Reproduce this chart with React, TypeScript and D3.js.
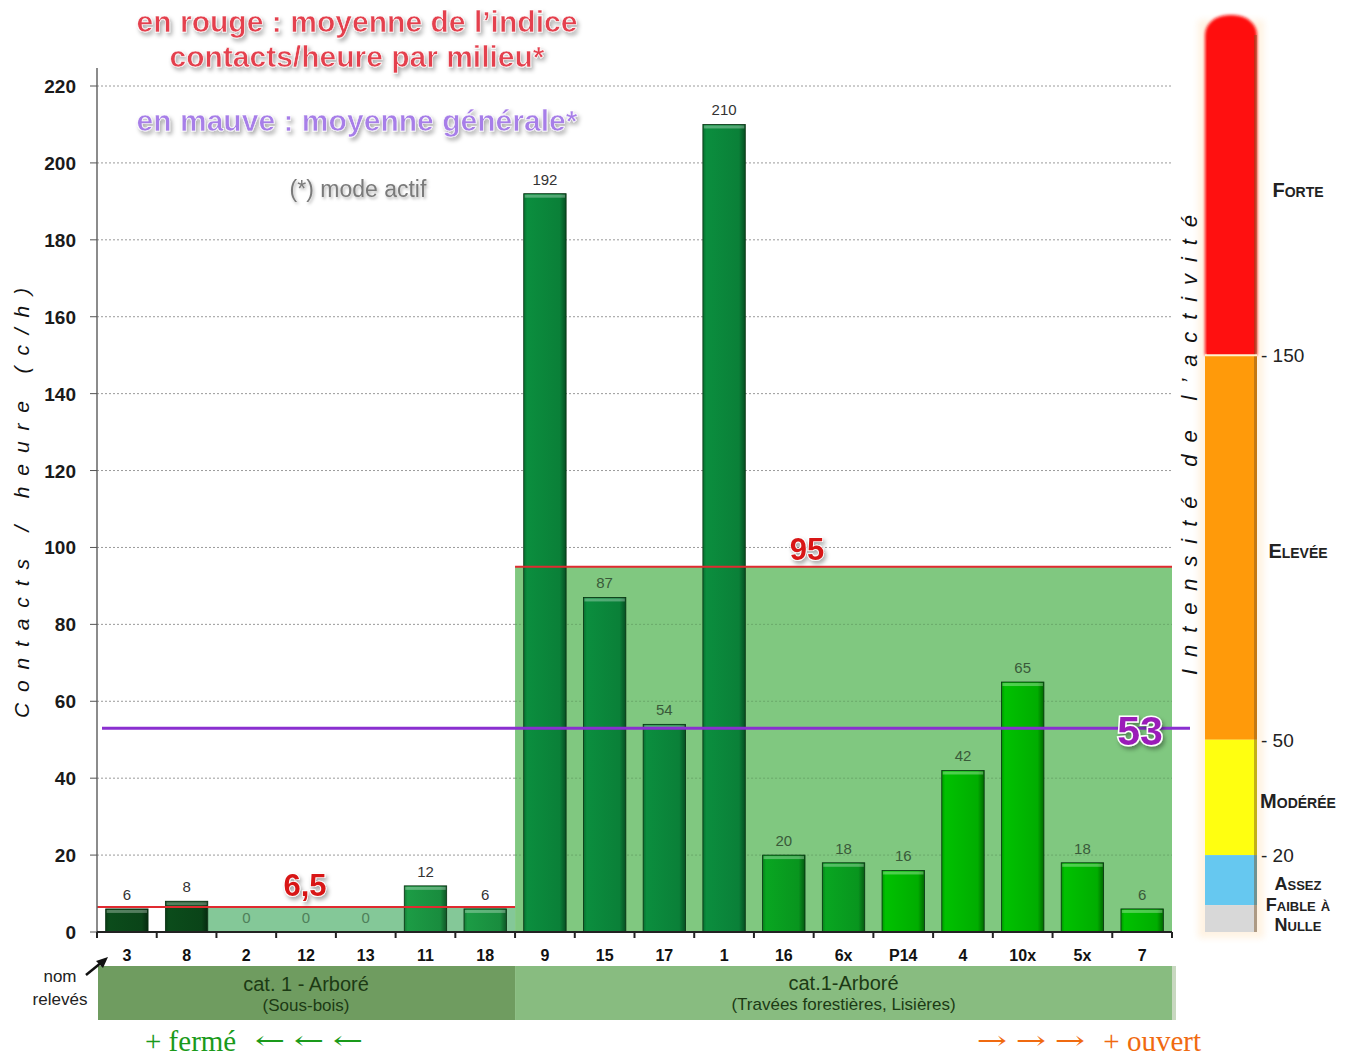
import React from "react";
import * as d3 from "d3";

const categories = ["3", "8", "2", "12", "13", "11", "18", "9", "15", "17", "1", "16", "6x", "P14", "4", "10x", "5x", "7"];
const values = [6, 8, 0, 0, 0, 12, 6, 192, 87, 54, 210, 20, 18, 16, 42, 65, 18, 6];
const yTicks = [0, 20, 40, 60, 80, 100, 120, 140, 160, 180, 200, 220];
const meanSousBois = 6.5;
const meanLisieres = 95;
const meanGenerale = 53;
const intensityBands = [
  { from: 50, to: 150, color: "#ff9a0a" },
  { from: 20, to: 50, color: "#ffff10" },
  { from: 7, to: 20, color: "#66c8f0" },
  { from: 0, to: 7, color: "#d8d8d8" },
];
const intensityTicks = [150, 50, 20];

// style per bar (tone index)
const tones = [0, 0, 1, 1, 1, 1, 1, 2, 2, 2, 2, 3, 3, 4, 4, 4, 4, 4];
const toneColors = ["#0a4418", "#198c3e", "#0a8038", "#08951e", "#00ad00"];

export default function App() {
  const W = 1351, H = 1057;
  const x0 = 97, x1 = 1172;
  const x = d3.scaleBand<string>().domain(categories).range([x0, x1]).paddingInner(0.29).paddingOuter(0.145);
  const xb = d3.scaleBand<string>().domain(categories).range([x0, x1]).padding(0);
  const y = d3.scaleLinear().domain([0, 220]).range([932, 86]);
  const step = xb.step();
  const splitX = xb("9")!;
  const leftShadeStart = xb("8")! + xb.step() - (step - x.bandwidth()) / 2;
  const sans = "'Liberation Sans', Arial, sans-serif";
  const serif = "'Liberation Serif', 'DejaVu Serif', 'Times New Roman', serif";
  const redTop = 15;

  return (
    <svg width={W} height={H} style={{ position: "absolute", left: 0, top: 0, background: "#fff" }}
      fontFamily={sans}>
      <defs>
        <filter id="sh" x="-10%" y="-30%" width="130%" height="180%">
          <feDropShadow dx="2" dy="3" stdDeviation="2" floodColor="#000" floodOpacity="0.35" />
        </filter>
        <filter id="soft" x="-10%" y="-30%" width="130%" height="180%">
          <feDropShadow dx="1.5" dy="2" stdDeviation="1.5" floodColor="#000" floodOpacity="0.3" />
        </filter>
        <filter id="blur" x="-30%" y="-10%" width="160%" height="120%"><feGaussianBlur stdDeviation="3" /></filter>
        <filter id="edge" x="-20%" y="-5%" width="140%" height="110%"><feGaussianBlur stdDeviation="1.6" /></filter>
        {toneColors.map((c, i) => (
          <linearGradient key={i} id={`bg${i}`} x1="0" x2="1" y1="0" y2="0">
            <stop offset="0" stopColor={d3.color(c)!.darker(0.4).toString()} />
            <stop offset="0.08" stopColor={d3.color(c)!.brighter(0.3).toString()} />
            <stop offset="0.85" stopColor={c} />
            <stop offset="1" stopColor={d3.color(c)!.darker(1.4).toString()} />
          </linearGradient>
        ))}
      </defs>

      {/* Titles */}
      <g fontWeight="bold" fontSize={29} textAnchor="middle" fontFamily={sans} filter="url(#sh)">
        <text x={357} y={32} fill="#e4404e" stroke="#fff" strokeWidth={0.6} textLength={441} lengthAdjust="spacingAndGlyphs">en rouge : moyenne de l’indice</text>
        <text x={357} y={67} fill="#e4404e" stroke="#fff" strokeWidth={0.6} textLength={375} lengthAdjust="spacingAndGlyphs">contacts/heure par milieu*</text>
        <text x={357} y={131} fill="#a77ee8" stroke="#fff" strokeWidth={0.6} textLength={441} lengthAdjust="spacingAndGlyphs">en mauve : moyenne générale*</text>
      </g>
      <text x={358} y={197} textAnchor="middle" fontSize={23} fill="#7a7a7a" filter="url(#soft)">(*) mode actif</text>

      {/* Gridlines */}
      {yTicks.filter(t => t > 0).map(t => (
        <line key={t} x1={x0} x2={x1} y1={y(t)} y2={y(t)} stroke="#9a9a9a" strokeWidth={1} strokeDasharray="2,2" />
      ))}

      {/* shaded means */}
      <rect x={leftShadeStart} y={y(meanSousBois)} width={splitX - leftShadeStart} height={y(0) - y(meanSousBois)} fill="#84c898" />
      <rect x={splitX} y={y(meanLisieres)} width={x1 - splitX} height={y(0) - y(meanLisieres)} fill="#80c880" />

      {yTicks.filter(t => t > 0 && t < meanLisieres).map(t => (
        <line key={"g" + t} x1={splitX} x2={x1} y1={y(t)} y2={y(t)} stroke="#6aa86a" strokeWidth={1} strokeDasharray="2,2" />
      ))}

      {/* Bars */}
      {categories.map((c, i) => {
        const v = values[i];
        if (v <= 0) return null;
        const bx = x(c)!, bw = x.bandwidth();
        const top = y(v);
        return (
          <g key={c}>
            <rect x={bx} y={top} width={bw} height={y(0) - top} fill={`url(#bg${tones[i]})`} stroke="#06300f" strokeWidth={0.8} />
            <rect x={bx + 1} y={top + 1} width={bw - 2} height={3} fill="#fff" opacity={0.3} />
          </g>
        );
      })}

      {/* Value labels */}
      {categories.map((c, i) => (
        <text key={"v" + c} x={x(c)! + x.bandwidth() / 2} y={y(values[i]) - 9}
          textAnchor="middle" fontSize={15}
          fill={values[i] === 0 ? "#4f7f5a" : (i >= 7 && values[i] < meanLisieres ? "#3a5a3a" : "#333")}>
          {values[i]}
        </text>
      ))}

      {/* mean lines */}
      <line x1={x0} x2={splitX} y1={y(meanSousBois)} y2={y(meanSousBois)} stroke="#e02a30" strokeWidth={2} />
      <line x1={splitX} x2={x1} y1={y(meanLisieres)} y2={y(meanLisieres)} stroke="#e02a30" strokeWidth={2} />
      <line x1={102} x2={1190} y1={y(meanGenerale)} y2={y(meanGenerale)} stroke="#8a2fd0" strokeWidth={3} />

      <g fontWeight="bold" fontFamily={sans} textAnchor="middle" filter="url(#sh)">
        <text x={305} y={896} fontSize={31} fill="#d81818" stroke="#fff" strokeWidth={1.5} paintOrder="stroke">6,5</text>
        <text x={807} y={560} fontSize={31} fill="#d81818" stroke="#fff" strokeWidth={1.5} paintOrder="stroke">95</text>
        <text x={1140} y={745} fontSize={41} fill="#9a1fb8" stroke="#fff" strokeWidth={3} paintOrder="stroke">53</text>
      </g>

      {/* Y axis */}
      <line x1={x0} x2={x0} y1={68} y2={y(0)} stroke="#666" strokeWidth={1.5} />
      {yTicks.map(t => (
        <g key={"t" + t}>
          <line x1={x0 - 7} x2={x0} y1={y(t)} y2={y(t)} stroke="#555" />
          <text x={76} y={y(t) + 7} textAnchor="end" fontSize={19} fontWeight="bold" fill="#1a1a1a">{t}</text>
        </g>
      ))}
      <text transform={`translate(29,503) rotate(-90)`} textAnchor="middle" fontSize={21} fontStyle="italic"
        textLength={430} lengthAdjust="spacing" fill="#111">Contacts / heure (c/h)</text>

      {/* X axis */}
      <line x1={x0} x2={x1} y1={y(0)} y2={y(0)} stroke="#222" strokeWidth={2} />
      {d3.range(categories.length + 1).map(i => (
        <line key={"xt" + i} x1={x0 + i * step} x2={x0 + i * step} y1={y(0)} y2={y(0) + 6} stroke="#222" strokeWidth={2} />
      ))}
      {categories.map(c => (
        <text key={"xl" + c} x={xb(c)! + step / 2} y={961} textAnchor="middle" fontSize={16} fontWeight="bold" fill="#111">{c}</text>
      ))}

      {/* category boxes */}
      <rect x={x0 + 1} y={966} width={splitX - x0 - 1} height={54} fill="#6f9c60" />
      <rect x={splitX} y={966} width={x1 - splitX} height={54} fill="#88bc80" />
      <rect x={x1} y={966} width={4} height={54} fill="#c8d8c0" />
      <text x={(x0 + splitX) / 2} y={991} textAnchor="middle" fontSize={20} fill="#1c3a14">cat. 1 - Arboré</text>
      <text x={(x0 + splitX) / 2} y={1011} textAnchor="middle" fontSize={17} fill="#1c3a14">(Sous-bois)</text>
      <text x={(splitX + x1) / 2} y={990} textAnchor="middle" fontSize={20} fill="#1c3a14">cat.1-Arboré</text>
      <text x={(splitX + x1) / 2} y={1010} textAnchor="middle" fontSize={17} fill="#1c3a14">(Travées forestières, Lisières)</text>

      <text x={60} y={982} textAnchor="middle" fontSize={17} fill="#222">nom</text>
      <text x={60} y={1005} textAnchor="middle" fontSize={17} fill="#222">relevés</text>
      <line x1={86} x2={102} y1={975} y2={962} stroke="#111" strokeWidth={2.5} />
      <path d="M108,957 L96,961 L103,968 Z" fill="#111" />

      {/* direction hints */}
      <g fontFamily={serif} fontSize={29}>
        <text x={145} y={1051} fill="#1a9a1a">+ fermé</text>
        {[270, 309, 348].map(cx => (
          <text key={"la" + cx} x={cx} y={1049} textAnchor="middle" fill="#1a9a1a" fontFamily="'DejaVu Serif', serif" fontSize={25} transform={`translate(${cx},0) scale(1.45,1) translate(${-cx},0)`}>←</text>
        ))}
        {[992, 1031, 1070].map(cx => (
          <text key={"ra" + cx} x={cx} y={1049} textAnchor="middle" fill="#f06a10" fontFamily="'DejaVu Serif', serif" fontSize={25} transform={`translate(${cx},0) scale(1.45,1) translate(${-cx},0)`}>→</text>
        ))}
        <text x={1201} y={1051} textAnchor="end" fill="#f06a10">+ ouvert</text>
      </g>

      {/* Intensity scale */}
      <g>
        <rect x={1198} y={20} width={66} height={y(0) - 14} fill="#fff0dc" filter="url(#blur)" opacity={0.8} />
        <g filter="url(#edge)">
          <rect x={1205} y={redTop} width={52} height={y(150) - redTop} rx={24} ry={20} fill="#ff1010" />
          <rect x={1205} y={redTop + 30} width={52} height={y(150) - redTop - 30} fill="#ff1010" />
        </g>
        <rect x={1207} y={redTop + 25} width={48} height={y(150) - redTop - 25} fill="#ff1010" />
        {intensityBands.map(b => (
          <rect key={b.from} x={1205} y={y(b.to)} width={52} height={y(b.from) - y(b.to)} fill={b.color} />
        ))}
        <rect x={1254} y={redTop + 20} width={3} height={y(0) - redTop - 20} fill="#7a5020" opacity={0.45} />
        <line x1={1205} x2={1257} y1={y(150)} y2={y(150)} stroke="#fff3d0" strokeWidth={2} />
        {intensityTicks.map(t => (
          <text key={"it" + t} x={1261} y={y(t) + 7} fontSize={19} fill="#222">- {t}</text>
        ))}
        <g fontWeight="bold" fontSize={20} fill="#222" textAnchor="middle" style={{ fontVariant: "small-caps" }}>
          <text x={1298} y={197}>Forte</text>
          <text x={1298} y={558}>Elevée</text>
          <text x={1298} y={808}>Modérée</text>
          <text x={1298} y={890} fontSize={18}>Assez</text>
          <text x={1298} y={911} fontSize={18}>Faible à</text>
          <text x={1298} y={931} fontSize={18}>Nulle</text>
        </g>
      </g>
      <text transform={`translate(1197,445) rotate(-90)`} textAnchor="middle" fontSize={22} fontStyle="italic"
        textLength={460} lengthAdjust="spacing" fill="#111">Intensité de l’activité</text>
    </svg>
  );
}
